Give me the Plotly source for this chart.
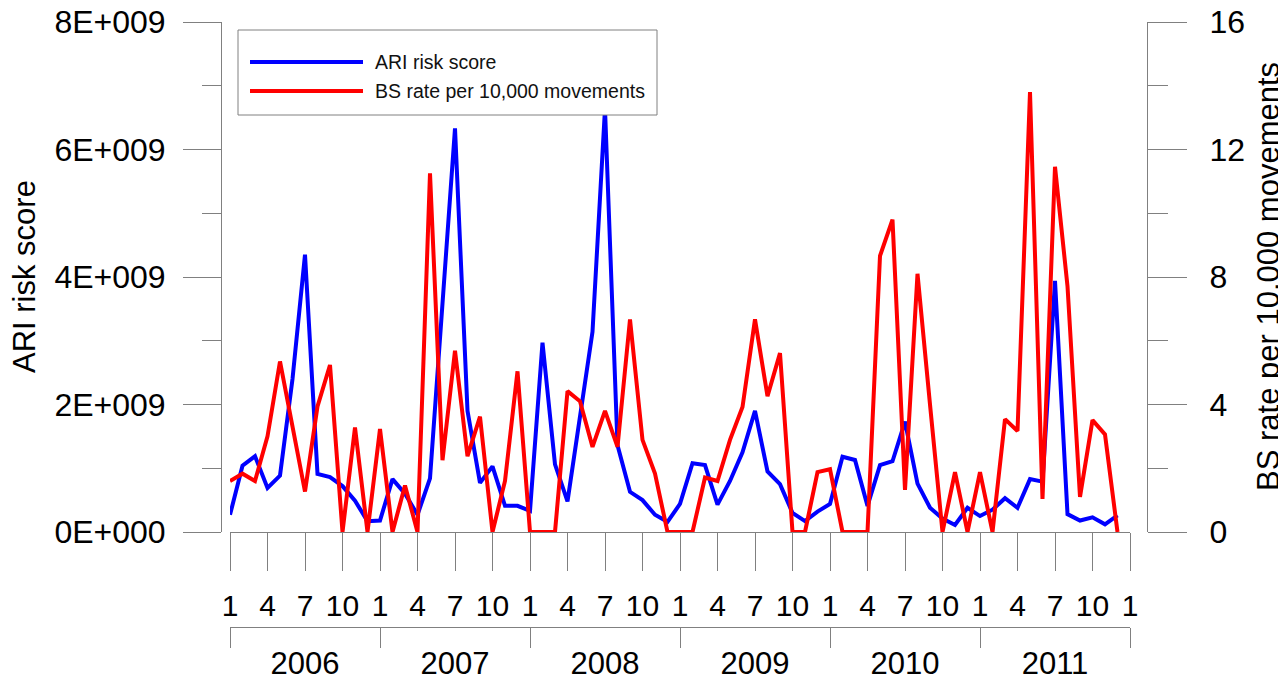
import plotly.graph_objects as go

# ---------------- data ----------------
months_idx = list(range(72))  # Jan 2006 .. Dec 2011
month_tick_labels = ["1", "4", "7", "10"] * 6 + ["1"]
years = ["2006", "2007", "2008", "2009", "2010", "2011"]

ari_risk_score = [
    0.27e9, 1.04e9, 1.19e9, 0.69e9, 0.885e9, 2.4e9, 4.35e9, 0.91e9, 0.86e9, 0.72e9, 0.49e9, 0.17e9,
    0.18e9, 0.83e9, 0.60e9, 0.27e9, 0.84e9, 3.6e9, 6.33e9, 1.90e9, 0.77e9, 1.03e9, 0.41e9, 0.41e9,
    0.33e9, 2.97e9, 1.06e9, 0.48e9, 1.85e9, 3.14e9, 6.64e9, 1.36e9, 0.63e9, 0.50e9, 0.27e9, 0.16e9,
    0.44e9, 1.08e9, 1.05e9, 0.43e9, 0.80e9, 1.25e9, 1.90e9, 0.95e9, 0.75e9, 0.30e9, 0.17e9, 0.32e9,
    0.44e9, 1.18e9, 1.13e9, 0.41e9, 1.05e9, 1.11e9, 1.73e9, 0.76e9, 0.38e9, 0.21e9, 0.11e9, 0.38e9,
    0.25e9, 0.35e9, 0.53e9, 0.38e9, 0.83e9, 0.79e9, 3.94e9, 0.28e9, 0.18e9, 0.23e9, 0.12e9, 0.26e9,
]
bs_rate = [
    1.60, 1.83, 1.60, 3.0, 5.35, 3.25, 1.27, 3.94, 5.24, 0.0, 3.28, 0.0,
    3.23, 0.0, 1.46, 0.0, 11.25, 2.25, 5.69, 2.38, 3.62, 0.0, 1.60, 5.04,
    0.0, 0.0, 0.0, 4.42, 4.1, 2.67, 3.8, 2.67, 6.67, 2.89, 1.83, 0.0,
    0.0, 0.0, 1.71, 1.60, 2.89, 3.92, 6.67, 4.26, 5.61, 0.0, 0.0, 1.88,
    1.97, 0.0, 0.0, 0.0, 8.66, 9.80, 1.32, 8.10, 4.0, 0.0, 1.88, 0.0,
    1.88, 0.0, 3.54, 3.17, 13.8, 1.04, 11.46, 7.71, 1.10, 3.51, 3.06, 0.0,
]
left_tickvals = [0, 2e9, 4e9, 6e9, 8e9]
left_ticktext = ["0E+000", "2E+009", "4E+009", "6E+009", "8E+009"]
left_minor = [1e9, 3e9, 5e9, 7e9]
right_tickvals = [0, 4, 8, 12, 16]
right_minor = [2, 6, 10, 14]
series_names = ["ARI risk score", "BS rate per 10,000 movements"]

# ---------------- layout geometry (screen pixels) ----------------
OFF = 8                      # page body margin
W, H = 1286 - OFF, 680 - OFF # figure size so that it fills the window
LEFT_AXIS_X, RIGHT_AXIS_X = 221, 1147
TOP_Y, AXIS_Y, YEAR_Y = 22, 532, 627
PLOT_X0, PLOT_X1 = 230, 1130

ML = LEFT_AXIS_X - OFF
MR = W - (RIGHT_AXIS_X - OFF)
MT = TOP_Y - OFF
MB = H - (YEAR_Y - OFF)
PW, PH = W - ML - MR, H - MT - MB

def px(x):
    return (x - OFF - ML) / PW

def py(y):
    return (H - MB - (y - OFF)) / PH

FONT = "Liberation Sans, Arial, sans-serif"
GRAY = "#808080"
BLUE = "#0000FF"
RED = "#FF0000"

fig = go.Figure()
fig.add_trace(go.Scatter(x=months_idx, y=ari_risk_score, mode="lines", name=series_names[0],
                         line=dict(color=BLUE, width=4), xaxis="x", yaxis="y", showlegend=False))
fig.add_trace(go.Scatter(x=months_idx, y=bs_rate, mode="lines", name=series_names[1],
                         line=dict(color=RED, width=4), xaxis="x", yaxis="y2", showlegend=False))
# carrier for the year axis
fig.add_trace(go.Scatter(x=[0, 72], y=[None, None], mode="lines", xaxis="x2", yaxis="y",
                         showlegend=False, hoverinfo="skip"))

xdom = [px(PLOT_X0), px(PLOT_X1)]
ydom = [py(AXIS_Y), 1]

fig.update_layout(
    width=W, height=H,
    margin=dict(l=ML, r=MR, t=MT, b=MB, pad=0, autoexpand=False),
    paper_bgcolor="white", plot_bgcolor="white",
    font=dict(family=FONT, color="black"),
    showlegend=False,
    xaxis=dict(domain=xdom, anchor="y", range=[0, 72], showgrid=False, zeroline=False,
               automargin=False, showline=True, linecolor=GRAY, linewidth=1,
               tickmode="array", tickvals=list(range(0, 73, 3)), ticktext=month_tick_labels,
               ticks="outside", ticklen=38, tickcolor=GRAY, tickwidth=1,
               tickfont=dict(size=30, family=FONT), ticklabelstandoff=9,
               ticklabeloverflow="allow"),
    xaxis2=dict(domain=xdom, anchor="free", position=0, overlaying="x", range=[0, 72],
                automargin=False, showgrid=False, zeroline=False, showline=True,
                linecolor=GRAY, linewidth=1,
                tickmode="array", tickvals=[6 + 12 * k for k in range(6)], ticktext=years,
                ticks="", tickfont=dict(size=31, family=FONT), ticklabelstandoff=9,
                ticklabeloverflow="allow",
                minor=dict(tickmode="array", tickvals=[12 * k for k in range(7)],
                           ticks="outside", ticklen=20, tickcolor=GRAY, tickwidth=1, showgrid=False),
                side="bottom"),
    yaxis=dict(domain=ydom, anchor="free", position=0, range=[0, 8e9], showgrid=False,
               automargin=False, zeroline=False, showline=True, linecolor=GRAY, linewidth=1,
               tickmode="array", tickvals=left_tickvals, ticktext=left_ticktext,
               ticks="outside", ticklen=38, tickcolor=GRAY, tickwidth=1,
               tickfont=dict(size=32, family=FONT), ticklabelstandoff=11,
               ticklabeloverflow="allow",
               minor=dict(tickmode="array", tickvals=left_minor, ticks="outside",
                          ticklen=19, tickcolor=GRAY, tickwidth=1, showgrid=False)),
    yaxis2=dict(domain=ydom, anchor="free", position=1, overlaying="y", side="right",
                automargin=False, range=[0, 16], showgrid=False, zeroline=False, showline=True,
                linecolor=GRAY, linewidth=1,
                tickmode="array", tickvals=right_tickvals,
                ticktext=[str(v) for v in right_tickvals],
                ticks="outside", ticklen=39, tickcolor=GRAY, tickwidth=1,
                tickfont=dict(size=32, family=FONT), ticklabelstandoff=16,
                ticklabeloverflow="allow",
                minor=dict(tickmode="array", tickvals=right_minor, ticks="outside",
                           ticklen=20, tickcolor=GRAY, tickwidth=1, showgrid=False)),
)

# axis titles
fig.add_annotation(text=series_names[0], xref="paper", yref="paper", x=px(24), y=py(277),
                   textangle=-90, showarrow=False, font=dict(size=31, family=FONT),
                   xanchor="center", yanchor="middle")
fig.add_annotation(text=series_names[1], xref="paper", yref="paper", x=px(1268), y=py(277),
                   textangle=-90, showarrow=False, font=dict(size=31, family=FONT),
                   xanchor="center", yanchor="middle")

# legend box (drawn manually for long line samples)
fig.add_shape(type="rect", xref="paper", yref="paper", x0=px(238), x1=px(657), y0=py(115), y1=py(30),
              line=dict(color=GRAY, width=1), fillcolor="white", layer="above")
for name, color, yy in [(series_names[0], BLUE, 62), (series_names[1], RED, 91)]:
    fig.add_shape(type="line", xref="paper", yref="paper", x0=px(250), x1=px(363), y0=py(yy), y1=py(yy),
                  line=dict(color=color, width=4), layer="above")
    fig.add_annotation(text=name, xref="paper", yref="paper", x=px(373), y=py(yy), showarrow=False,
                       xanchor="left", yanchor="middle", font=dict(size=19.5, family=FONT, color="#111"))

fig.write_html("out.html")
